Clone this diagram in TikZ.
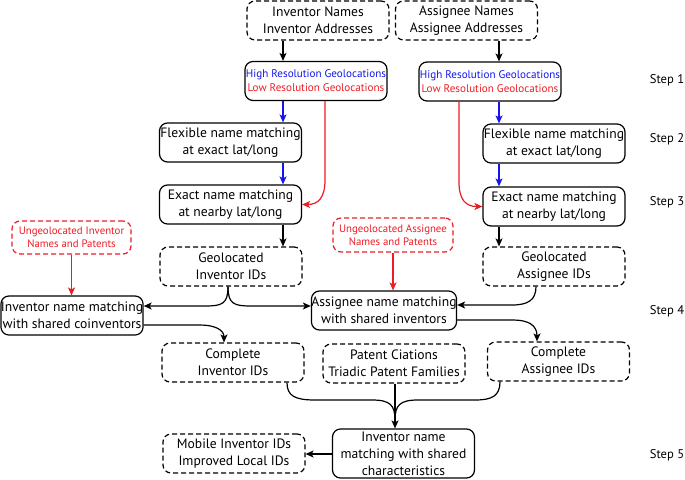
\documentclass[tikz,border=0pt]{standalone}
\usepackage{fontspec}
\setmainfont{PT Sans}
\usetikzlibrary{arrows.meta}
\definecolor{myred}{RGB}{237,28,36}
\definecolor{myblue}{RGB}{20,20,235}
\tikzset{
  box/.style={draw, rounded corners=8pt, line width=1.2pt, align=center, inner sep=0pt,
    minimum width=142pt, minimum height=39pt, font=\fontsize{13.6}{17}\selectfont},
  dbox/.style={box, dash pattern=on 5pt off 3pt},
  rbox/.style={dbox, draw=myred, text=myred, minimum width=119pt, minimum height=33pt,
    font=\fontsize{10.8}{13.5}\selectfont},
  geo/.style={box, font=\fontsize{11.1}{14}\selectfont},
  steplbl/.style={font=\fontsize{12.6}{15}\selectfont},
  arr/.style={line width=1.2pt, -{Stealth[length=8pt,width=7pt,inset=2pt]}},
  ln/.style={line width=1.2pt},
}
\begin{document}
\begin{tikzpicture}[x=1pt,y=-1pt]
\useasboundingbox (0,0) rectangle (685,479);
% nodes
\node[dbox] (inv) at (318,20.5) {Inventor Names\\Inventor Addresses};
\node[dbox] (asg) at (466.5,20.5) {Assignee Names\\Assignee Addresses};
\node[geo] (hr1) at (316,81) {\textcolor{myblue}{High Resolution Geolocations}\\\textcolor{myred}{Low Resolution Geolocations}};
\node[geo] (hr2) at (490,81.5) {\textcolor{myblue}{High Resolution Geolocations}\\\textcolor{myred}{Low Resolution Geolocations}};
\node[box] (flex1) at (230.5,142.5) {Flexible name matching\\at exact lat/long};
\node[box] (flex2) at (554,143.5) {Flexible name matching\\at exact lat/long};
\node[box] (ex1) at (230.5,204.5) {Exact name matching\\at nearby lat/long};
\node[box] (ex2) at (554,206.5) {Exact name matching\\at nearby lat/long};
\node[rbox] (ungI) at (71.5,237.5) {Ungeolocated Inventor\\Names and Patents};
\node[rbox, minimum width=120pt, minimum height=34pt] (ungA) at (393,235) {Ungeolocated Assignee\\Names and Patents};
\node[dbox] (geoI) at (231,266.5) {Geolocated\\Inventor IDs};
\node[dbox] (geoA) at (554,266.5) {Geolocated\\Assignee IDs};
\node[box] (invm) at (72,315.5) {Inventor name matching\\with shared coinventors};
\node[box] (asgm) at (384,310.5) {Assignee name matching\\with shared inventors};
\node[dbox] (compI) at (233,362.5) {Complete\\Inventor IDs};
\node[dbox] (pat) at (394,363.5) {Patent Ciations\\Triadic Patent Families};
\node[dbox] (compA) at (558.5,361.5) {Complete\\Assignee IDs};
\node[box, minimum height=49pt] (invc) at (403.5,453.5) {Inventor name\\matching with shared\\characteristics};
\node[dbox] (mob) at (234,453.5) {Mobile Inventor IDs\\Improved Local IDs};
% steps
\node[steplbl] (s1) at (667,80) {Step 1};
\node[steplbl] (s2) at (667,139) {Step 2};
\node[steplbl] (s3) at (667,202) {Step 3};
\node[steplbl] (s4) at (667,311) {Step 4};
\node[steplbl] (s5) at (667,455) {Step 5};
% columns
\coordinate (cl) at (283,0);
\coordinate (cr) at (499,0);
\coordinate (rl) at (325,0);
\coordinate (rr) at (459,0);
% vertical arrows
\draw[arr] (inv.south -| cl) -- (hr1.north -| cl);
\draw[arr] (asg.south -| cr) -- (hr2.north -| cr);
\draw[arr, myblue] (hr1.south -| cl) -- (flex1.north -| cl);
\draw[arr, myblue] (flex1.south -| cl) -- (ex1.north -| cl);
\draw[arr, myblue] (hr2.south -| cr) -- (flex2.north -| cr);
\draw[arr, myblue] (flex2.south -| cr) -- (ex2.north -| cr);
\draw[arr] (ex1.south -| cl) -- (geoI.north -| cl);
\draw[arr] (ex2.south -| cr) -- (geoA.north -| cr);
% red arrows
\draw[arr, myred] (hr1.south -| rl) -- (325,180) .. controls (325,198) and (318,204.5) .. (ex1.east);
\draw[arr, myred] (hr2.south -| rr) -- (459,182) .. controls (459,200) and (466,206.5) .. (ex2.west);
\draw[arr, myred] (ungI.south) -- (invm.north -| ungI.south);
\draw[arr, myred] (ungA.south) -- (asgm.north -| ungA.south);
% brace from geolocated inventor IDs
\coordinate (gI) at (228,0);
\draw[arr] (geoI.south -| gI) .. controls (228,304) and (222,306) .. (205,306) -- (invm.east |- 0,306);
\draw[arr] (geoI.south -| gI) .. controls (228,304) and (234,306) .. (251,306) -- (asgm.west |- 0,306);
\coordinate (gA) at (536,0);
\draw[arr] (geoA.south -| gA) .. controls (536,300) and (528,305) .. (512,305) -- (asgm.east |- 0,305);
% to complete IDs
\coordinate (cIx) at (224,0);
\draw[arr] (invm.east |- 0,325) -- (200,325) .. controls (215,325) and (224,330) .. (compI.north -| cIx);
\coordinate (cAx) at (537,0);
\draw[arr] (asgm.east |- 0,320) -- (513,320) .. controls (528,320) and (537,325) .. (compA.north -| cAx);
% merge
\coordinate (mx) at (395,0);
\draw[ln] (compI.south -| 287,0) .. controls (287,396) and (295,400) .. (315,400) -- (372,400) .. controls (390,400) and (395,405) .. (395,420);
\draw[ln] (compA.south -| 500,0) .. controls (500,396) and (492,400) .. (475,400) -- (418,400) .. controls (400,400) and (395,405) .. (395,420);
\draw[arr] (pat.south -| mx) -- (invc.north -| mx);
% to mobile
\draw[arr] (invc.west |- 0,454) -- (mob.east |- 0,454);
\end{tikzpicture}
\end{document}
